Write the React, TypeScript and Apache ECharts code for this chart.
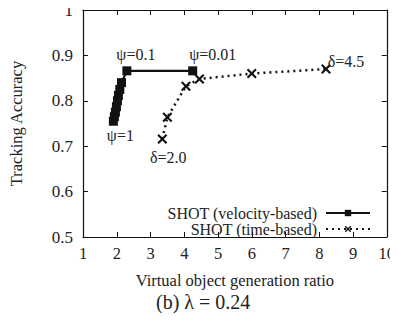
import React, { useEffect, useRef } from "react";
import * as echarts from "echarts";

const velocityX = [1.9, 1.93, 1.96, 1.99, 2.02, 2.05, 2.09, 2.14, 2.3, 4.25];
const velocityY = [0.755, 0.765, 0.775, 0.787, 0.8, 0.812, 0.825, 0.84, 0.866, 0.866];
const velocityLabels: Record<number, string> = { 0: "ψ=1", 8: "ψ=0.1", 9: "ψ=0.01" };

const timeX = [3.35, 3.5, 4.05, 4.45, 6.0, 8.2];
const timeY = [0.716, 0.764, 0.832, 0.848, 0.86, 0.87];
const timeLabels: Record<number, string> = { 0: "δ=2.0", 5: "δ=4.5" };

const FONT = "'Liberation Serif', 'Times New Roman', serif";
const CROSS_POLY = "path://M0,1.5 L1.5,0 L5,3.5 L8.5,0 L10,1.5 L6.5,5 L10,8.5 L8.5,10 L5,6.5 L1.5,10 L0,8.5 L3.5,5 Z";

const labelStyles: Record<string, any> = {
  "ψ=1": { position: "bottom", offset: [7, -3] },
  "ψ=0.1": { position: "top", offset: [9, 1] },
  "ψ=0.01": { position: "top", offset: [20, 1] },
  "δ=2.0": { position: "bottom", offset: [6, 1] },
  "δ=4.5": { position: "top", offset: [20, 10] },
};

function buildData(xs: number[], ys: number[], labels: Record<number, string>) {
  return xs.map((x, i) => {
    const lab = labels[i];
    if (!lab) return [x, ys[i]];
    const st = labelStyles[lab];
    return {
      value: [x, ys[i]],
      label: {
        show: true,
        formatter: lab,
        position: st.position,
        offset: st.offset,
        color: "#222",
        fontFamily: FONT,
        fontSize: 16,
      },
    };
  });
}

export default function App() {
  const ref = useRef<HTMLDivElement>(null);
  useEffect(() => {
    if (!ref.current) return;
    const chart = echarts.init(ref.current, undefined, { renderer: "svg" });
    const axisLine = { show: true, lineStyle: { color: "#111", width: 1.2 } };
    const tick = { show: true, inside: true, length: 5, lineStyle: { color: "#111" } };
    chart.setOption({
      animation: false,
      backgroundColor: "#fff",
      textStyle: { fontFamily: FONT, color: "#222" },
      grid: { left: 79, right: 8, top: 10, bottom: 84, show: false },
      title: {
        text: "(b) λ = 0.24",
        left: 151,
        top: 287,
        textStyle: { fontFamily: FONT, fontSize: 20, fontWeight: "normal", color: "#222" },
      },
      legend: {
        right: 22,
        top: 200,
        orient: "vertical",
        align: "right",
        itemWidth: 44,
        itemHeight: 8,
        itemGap: 0,
        textStyle: { fontFamily: FONT, fontSize: 16, lineHeight: 15, color: "#222", padding: [0, 4, 0, 0] },
        data: ["SHOT (velocity-based)", "SHOT (time-based)"],
      },
      xAxis: [
        {
          type: "value",
          min: 1,
          max: 10,
          interval: 1,
          name: "Virtual object generation ratio",
          nameLocation: "middle",
          nameGap: 35,
          nameTextStyle: { fontFamily: FONT, fontSize: 16.5, color: "#222" },
          axisLine,
          axisTick: tick,
          axisLabel: { fontFamily: FONT, fontSize: 16.5, color: "#222", margin: 8 },
          splitLine: { show: false },
        },
        {
          type: "value",
          position: "top",
          min: 1,
          max: 10,
          interval: 1,
          axisLine,
          axisTick: tick,
          axisLabel: { show: false },
          splitLine: { show: false },
        },
      ],
      yAxis: [
        {
          type: "value",
          min: 0.5,
          max: 1,
          interval: 0.1,
          name: "Tracking Accuracy",
          nameLocation: "middle",
          nameGap: 58,
          nameTextStyle: { fontFamily: FONT, fontSize: 16.5, color: "#222" },
          axisLine,
          axisTick: tick,
          axisLabel: {
            fontFamily: FONT,
            fontSize: 17,
            color: "#222",
            margin: 10,
            formatter: (v: number) => String(Math.round(v * 10) / 10),
          },
          splitLine: { show: false },
        },
        {
          type: "value",
          position: "right",
          min: 0.5,
          max: 1,
          interval: 0.1,
          axisLine,
          axisTick: tick,
          axisLabel: { show: false },
          splitLine: { show: false },
        },
      ],
      series: [
        {
          name: "SHOT (velocity-based)",
          type: "line",
          data: buildData(velocityX, velocityY, velocityLabels),
          symbol: "rect",
          symbolSize: 9,
          itemStyle: { color: "#111" },
          lineStyle: { color: "#111", width: 2.2 },
        },
        {
          name: "SHOT (time-based)",
          type: "line",
          data: buildData(timeX, timeY, timeLabels),
          symbol: CROSS_POLY,
          symbolSize: 10,
          itemStyle: { color: "#111" },
          lineStyle: { color: "#111", width: 2.5, type: [2, 4] as any },
        },
      ],
    });
    return () => chart.dispose();
  }, []);
  return <div ref={ref} style={{ width: 398, height: 321, margin: -8 }} />;
}
